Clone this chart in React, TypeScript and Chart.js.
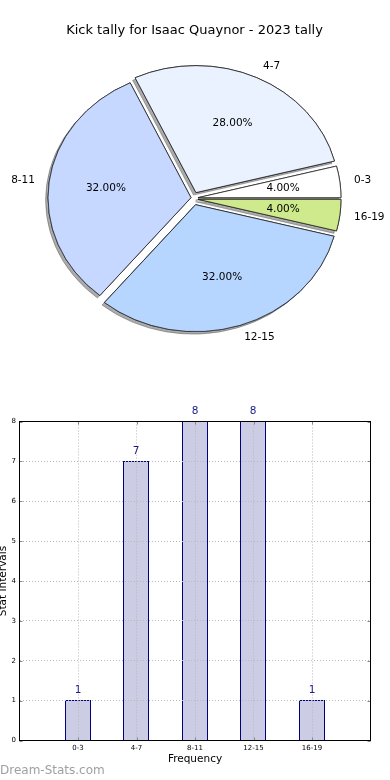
import React, { useEffect, useRef } from 'react';
import { Chart, registerables } from 'chart.js';

Chart.register(...registerables);

// ---- data ----
const TITLE = 'Kick tally for Isaac Quaynor - 2023 tally';
const categories = ['0-3', '4-7', '8-11', '12-15', '16-19'];
const counts = [1, 7, 8, 8, 1];
const pieColors = ['#FFFFFF', '#EAF1FF', '#C6D8FF', '#B6D5FF', '#CEEA8C'];
const yTicks = [0, 1, 2, 3, 4, 5, 6, 7, 8];
const X_TITLE = 'Frequency';
const Y_TITLE = 'Stat Intervals';
const WATERMARK = 'Dream-Stats.com';

// ---- style ----
const FONT = '"DejaVu Sans", sans-serif';
const ELLIPSE_K = 0.888; // vertical squash of the pie
const EXPLODE_X = 3.5; // px, horizontal part of wedge offset
const EXPLODE_Y = 6.5; // px (screen), vertical part of wedge offset
const LABEL_DIST = 1.1;
const PCT_DIST = 0.6;

const piePlugin = {
  id: 'pieDecor',
  beforeDatasetsDraw(chart: any) {
    const ctx = chart.ctx as CanvasRenderingContext2D;
    const arcs = chart.getDatasetMeta(0).data as any[];
    if (!arcs.length) return;
    const cx = arcs[0].x;
    const cy = arcs[0].y;
    ctx.save();
    ctx.translate(cx, cy);
    ctx.scale(1, ELLIPSE_K);
    ctx.translate(-cx, -cy);
    const drawAll = () =>
      arcs.forEach((a) => {
        const mid = (a.startAngle + a.endAngle) / 2;
        ctx.save();
        ctx.translate(Math.cos(mid) * EXPLODE_X, (Math.sin(mid) * EXPLODE_Y) / ELLIPSE_K);
        a.draw(ctx);
        ctx.restore();
      });
    ctx.shadowColor = 'rgba(0,0,0,0.33)';
    ctx.shadowOffsetX = -2.5;
    ctx.shadowOffsetY = 2.5;
    ctx.shadowBlur = 0;
    drawAll();
    ctx.shadowColor = 'rgba(0,0,0,0)';
    ctx.shadowOffsetX = 0;
    ctx.shadowOffsetY = 0;
    drawAll();
    ctx.restore();
    return false;
  },
  afterDraw(chart: any) {
    const ctx = chart.ctx as CanvasRenderingContext2D;
    const arcs = chart.getDatasetMeta(0).data as any[];
    const labels = chart.data.labels as string[];
    const values = chart.data.datasets[0].data as number[];
    const sum = values.reduce((a, b) => a + b, 0);
    ctx.save();
    ctx.fillStyle = '#000';
    ctx.font = `13px ${FONT}`;
    ctx.textAlign = 'center';
    ctx.textBaseline = 'alphabetic';
    ctx.fillText(TITLE, 194.5, 33.5);
    ctx.font = `10.5px ${FONT}`;
    ctx.textBaseline = 'middle';
    arcs.forEach((a, i) => {
      const mid = (a.startAngle + a.endAngle) / 2;
      const c = Math.cos(mid);
      const s = Math.sin(mid);
      const ax = a.x + c * EXPLODE_X;
      const ay = a.y + s * EXPLODE_Y;
      const R = a.outerRadius;
      ctx.textAlign = c >= 0 ? 'left' : 'right';
      ctx.fillText(labels[i], ax + LABEL_DIST * R * c, ay + LABEL_DIST * R * s * ELLIPSE_K);
      ctx.textAlign = 'center';
      const pct = ((values[i] / sum) * 100).toFixed(2) + '%';
      ctx.fillText(pct, ax + PCT_DIST * R * c, ay + PCT_DIST * R * s * ELLIPSE_K);
    });
    ctx.restore();
  },
};

const barPlugin = {
  id: 'barDecor',
  afterDatasetsUpdate(chart: any) {
    // snap bars to whole pixels so the thin borders stay crisp
    const meta = chart.getDatasetMeta(0);
    meta.data.forEach((bar: any) => {
      bar.x = Math.floor(bar.x);
      bar.y = Math.floor(bar.y);
    });
  },
  afterDraw(chart: any) {
    const ctx = chart.ctx as CanvasRenderingContext2D;
    const { left, right, top, bottom } = chart.chartArea;
    const xs = chart.scales.x;
    const ys = chart.scales.y;
    ctx.save();
    // small inward tick marks
    ctx.strokeStyle = '#888';
    ctx.lineWidth = 1;
    ctx.beginPath();
    xs.ticks.forEach((t: any) => {
      const px = Math.round(xs.getPixelForValue(t.value)) + 0.5;
      ctx.moveTo(px, top);
      ctx.lineTo(px, top + 3);
      ctx.moveTo(px, bottom);
      ctx.lineTo(px, bottom - 3);
    });
    ys.ticks.forEach((t: any) => {
      const py = Math.round(ys.getPixelForValue(t.value)) + 0.5;
      ctx.moveTo(left, py);
      ctx.lineTo(left + 3, py);
      ctx.moveTo(right, py);
      ctx.lineTo(right - 3, py);
    });
    ctx.stroke();
    // frame
    ctx.strokeStyle = '#000';
    ctx.lineWidth = 1;
    ctx.strokeRect(left, top, right - left, bottom - top);
    // value labels
    const meta = chart.getDatasetMeta(0);
    ctx.font = `10.5px ${FONT}`;
    ctx.fillStyle = '#1a1a8c';
    ctx.textAlign = 'center';
    ctx.textBaseline = 'middle';
    meta.data.forEach((bar: any, i: number) => {
      ctx.fillText(String(counts[i]), bar.x, bar.y - 9.5);
    });
    ctx.restore();
  },
};

export default function App() {
  const pieRef = useRef<HTMLCanvasElement | null>(null);
  const barRef = useRef<HTMLCanvasElement | null>(null);

  useEffect(() => {
    const order = categories.map((_, i) => categories.length - 1 - i);
    const pie = new Chart(pieRef.current as HTMLCanvasElement, {
      type: 'pie',
      data: {
        labels: order.map((i) => categories[i]),
        datasets: [
          {
            data: order.map((i) => counts[i]),
            backgroundColor: order.map((i) => pieColors[i]),
            borderColor: '#1a1a1a',
            borderWidth: 0.8,
            borderJoinStyle: 'miter',
          } as any,
        ],
      },
      options: {
        responsive: false,
        animation: false,
        events: [],
        rotation: 90,
        radius: 143,
        layout: { padding: { left: 0, right: 1, top: 7, bottom: 0 } },
        plugins: {
          legend: { display: false },
          tooltip: { enabled: false },
          title: { display: false },
        },
      } as any,
      plugins: [piePlugin as any],
    });

    const borderOpts = { display: false, dash: [1, 2] };
    const bar = new Chart(barRef.current as HTMLCanvasElement, {
      type: 'bar',
      data: {
        datasets: [
          {
            data: counts.map((v, i) => ({ x: i, y: v })),
            backgroundColor: '#CCCCE5',
            borderColor: '#000080',
            borderWidth: 1,
            barThickness: 26,
            inflateAmount: 0,
          } as any,
        ],
      },
      options: {
        responsive: false,
        animation: false,
        events: [],
        layout: { padding: { left: 0, right: 22.5, top: 31.5, bottom: 0 } },
        plugins: { legend: { display: false }, tooltip: { enabled: false } },
        scales: {
          x: {
            type: 'linear',
            min: -1,
            max: 5,
            offset: false,
            afterBuildTicks: (s: any) => {
              s.ticks = categories.map((_, i) => ({ value: i }));
            },
            afterFit: (s: any) => {
              s.height = 39.5;
            },
            ticks: {
              callback: (v: any) => categories[v] ?? '',
              font: { family: FONT, size: 7 },
              color: '#000',
              padding: 3,
              maxRotation: 0,
              autoSkip: false,
            },
            grid: { color: '#b8b8b8', lineWidth: 1, drawTicks: false, z: 1, offset: false },
            border: borderOpts,
            title: {
              display: true,
              text: X_TITLE,
              font: { family: FONT, size: 10.5 },
              color: '#000',
              padding: { top: 0, bottom: 14 },
            },
          },
          y: {
            type: 'linear',
            min: 0,
            max: 8,
            afterBuildTicks: (s: any) => {
              s.ticks = yTicks.map((v) => ({ value: v }));
            },
            afterFit: (s: any) => {
              s.width = 22.5;
            },
            ticks: {
              font: { family: FONT, size: 7 },
              color: '#000',
              padding: 3.5,
            },
            grid: { color: '#b8b8b8', lineWidth: 1, drawTicks: false, z: 1 },
            border: borderOpts,
            title: {
              display: true,
              text: Y_TITLE,
              font: { family: FONT, size: 10.5 },
              color: '#000',
              padding: 0,
            },
          },
        },
      } as any,
      plugins: [barPlugin as any],
    });

    return () => {
      pie.destroy();
      bar.destroy();
    };
  }, []);

  return (
    <div style={{ position: 'absolute', left: 0, top: 0, width: 390, height: 780, overflow: 'hidden', background: '#fff' }}>
      <canvas
        ref={pieRef}
        width={390}
        height={390}
        style={{ position: 'absolute', left: 0, top: 0, width: 390, height: 390 }}
      />
      <canvas
        ref={barRef}
        width={396}
        height={390}
        style={{ position: 'absolute', left: -3, top: 390, width: 396, height: 390 }}
      />
      <div
        style={{
          position: 'absolute',
          left: 0,
          top: 763,
          fontFamily: FONT,
          fontSize: 12,
          lineHeight: '14px',
          color: '#a0a0a0',
          whiteSpace: 'nowrap',
        }}
      >
        {WATERMARK}
      </div>
    </div>
  );
}
